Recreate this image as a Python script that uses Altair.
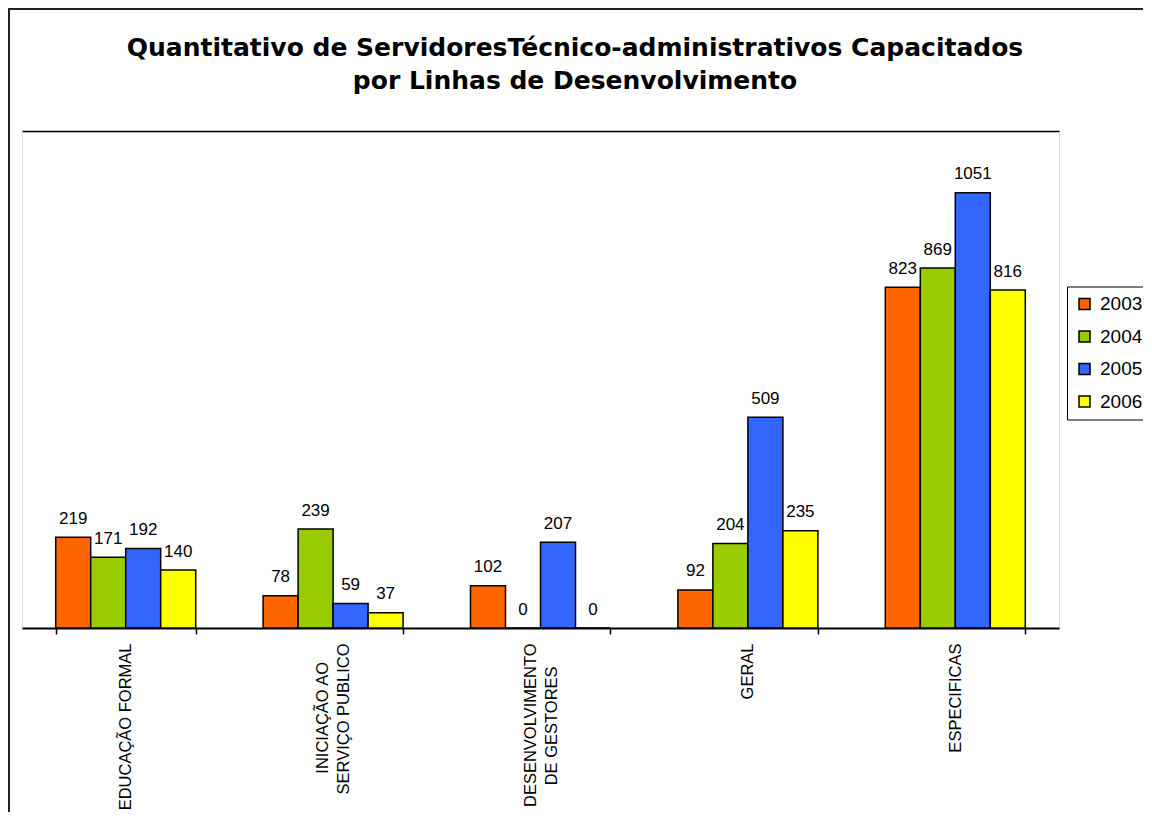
import json
import altair as alt
import pandas as pd

# ---- data ----
categories = ["EDUCAÇÃO FORMAL", "INICIAÇÃO AO SERVIÇO PUBLICO",
              "DESENVOLVIMENTO DE GESTORES", "GERAL", "ESPECIFICAS"]
NB = "\u00a0"
ZW = "\u200b"
tick_labels = [
    ["EDUCAÇÃO FORMAL"],
    ["INICIAÇÃO AO" + NB * 4 + ZW, "SERVIÇO PUBLICO"],
    ["DESENVOLVIMENTO", "DE GESTORES" + NB * 5 + ZW],
    ["GERAL"],
    ["ESPECIFICAS"],
]
years = ["2003", "2004", "2005", "2006"]
v2003 = [219, 78, 102, 92, 823]
v2004 = [171, 239, 0, 204, 869]
v2005 = [192, 59, 207, 509, 1051]
v2006 = [140, 37, 0, 235, 816]
colors = ["#FF6600", "#99CC00", "#3366FF", "#FFFF00"]

series = {"2003": v2003, "2004": v2004, "2005": v2005, "2006": v2006}
rows = []
for y in years:
    for c, v in zip(categories, series[y]):
        rows.append({"cat": c, "year": y, "value": v})
df = pd.DataFrame(rows)

# label expression mapping category -> multi-line label
expr = "datum.value"
for c, lines in reversed(list(zip(categories, tick_labels))):
    expr = (f"datum.value == {json.dumps(c, ensure_ascii=False)} ? "
            f"{json.dumps(lines, ensure_ascii=False)} : ({expr})")
two_line = [c for c, l in zip(categories, tick_labels) if len(l) > 1]
two_line_test = " || ".join(f"datum.value == {json.dumps(c, ensure_ascii=False)}" for c in two_line)

FONT = "Liberation Sans"

x = alt.X("cat:N", sort=categories,
          scale=alt.Scale(paddingInner=0.325, paddingOuter=0.1625),
          axis=alt.Axis(title=None, labelAngle=270, labelAlign="right",
                        labelBaseline="middle", labelExpr=expr,
                        labelOffset={"condition": {"test": two_line_test, "value": -10.5},
                                     "value": 0},
                        labelFont=FONT, labelFontSize=16.5, labelColor="#000000",
                        labelLineHeight=21, labelPadding=9,
                        tickBand="extent", tickSize=6, tickColor="#000000",
                        tickWidth=1.5, domainColor="#000000", domainWidth=2))
xo = alt.XOffset("year:N", sort=years, scale=alt.Scale(paddingInner=0, paddingOuter=0))
y = alt.Y("value:Q", scale=alt.Scale(domain=[0, 1200], nice=False, zero=True),
          axis=alt.Axis(title=None, values=[1200], labels=False, ticks=False,
                        domain=False, grid=True, gridColor="#000000", gridWidth=1.5))

base = alt.Chart(df)

bars = base.mark_bar(stroke="#000000", strokeWidth=1.5).encode(
    x=x, xOffset=xo, y=y,
    color=alt.Color("year:N", sort=years,
                    scale=alt.Scale(domain=years, range=colors),
                    legend=alt.Legend(title=None, orient="none", legendX=1045, legendY=155.5,
                                      strokeColor="#000000", fillColor="#FFFFFF",
                                      padding=8, symbolType="square", symbolSize=121,
                                      symbolStrokeColor="#000000", symbolStrokeWidth=1.5,
                                      labelFont=FONT, labelFontSize=19, labelColor="#000000",
                                      labelOffset=6, rowPadding=12.5)),
)

labels = base.mark_text(baseline="alphabetic", dy=-13.5, font=FONT, fontSize=17,
                        color="#000000").encode(
    x=x, xOffset=xo, y=y, text=alt.Text("value:Q"),
)

border = alt.Chart(alt.Data(values=[{"a": 1}])).mark_rect(
    fill=None, stroke="#222222", strokeWidth=2
).encode(x=alt.value(-13), x2=alt.value(1300), y=alt.value(-122), y2=alt.value(1000))

chart = alt.layer(border, bars, labels).properties(
    width=1037, height=497,
    padding={"left": 14, "top": 123, "right": 84, "bottom": 184},
    autosize=alt.AutoSizeParams(type="none"),
    title=alt.Title(
        ["Quantitativo de ServidoresTécnico-administrativos Capacitados",
         "por Linhas de Desenvolvimento"],
        font="DejaVu Sans", fontSize=25, fontWeight="bold", color="#000000",
        anchor="middle", frame="group", dx=34.5, dy=123, offset=37, lineHeight=33),
).configure_view(stroke="#808080", strokeWidth=2).configure(background="#FFFFFF")

chart.save("out.html", embed_options={"renderer": "svg", "actions": False})
